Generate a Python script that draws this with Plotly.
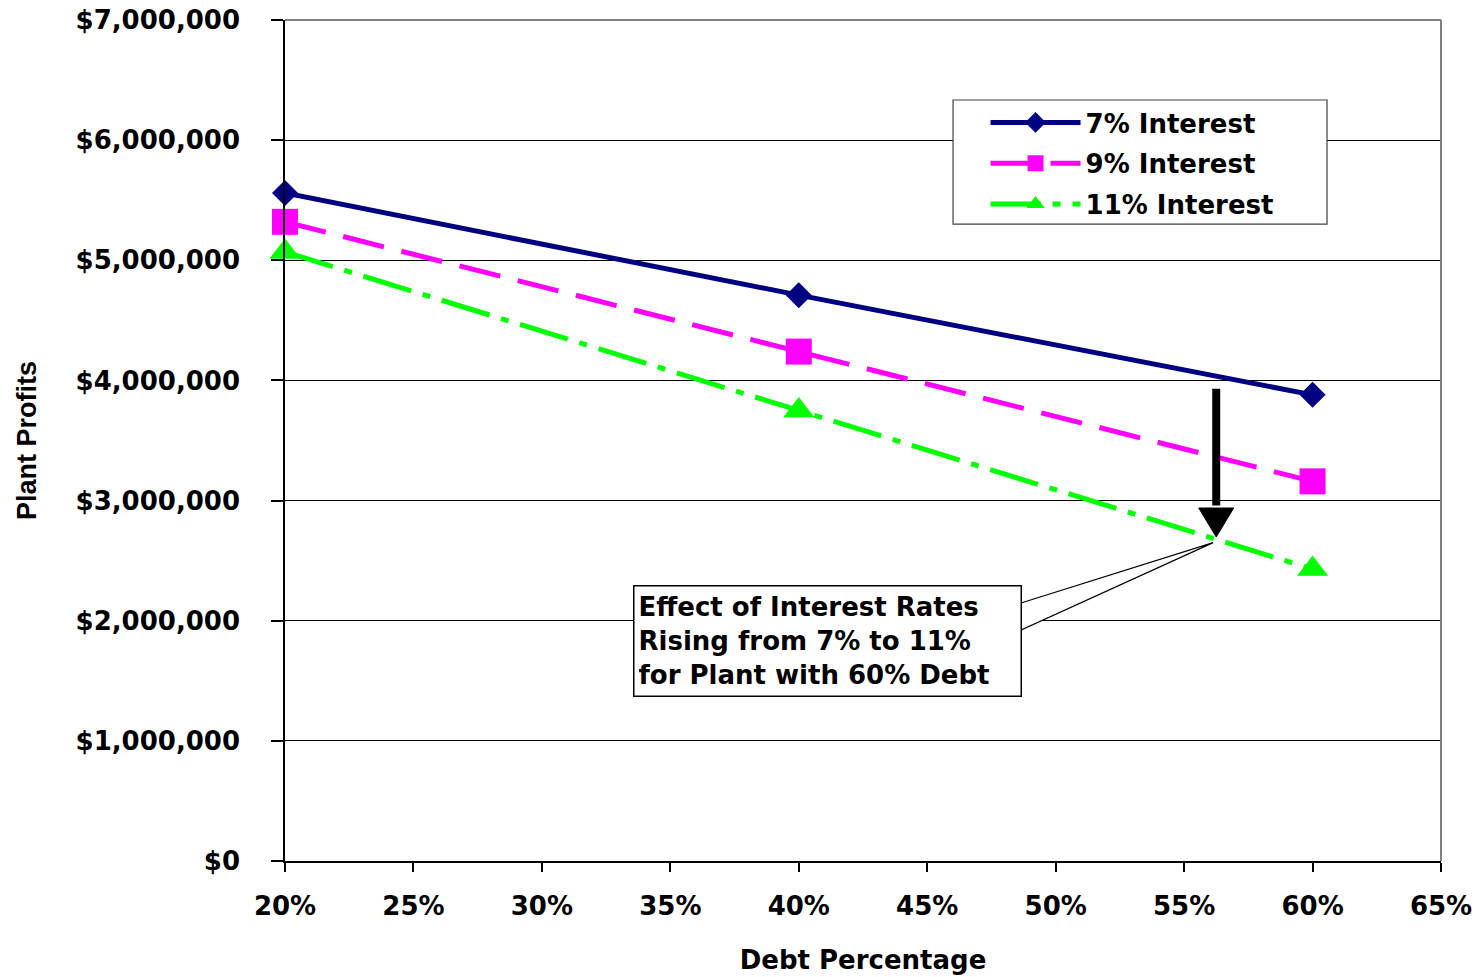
import plotly.graph_objects as go

# ---- data ----
debt_pct = [20, 40, 60]
profit_7 = [5560000, 4710000, 3880000]
profit_9 = [5320000, 4240000, 3160000]
profit_11 = [5070000, 3750000, 2430000]
series_names = ["7% Interest", "9% Interest", "11% Interest"]

x_ticks = [20, 25, 30, 35, 40, 45, 50, 55, 60, 65]
x_tick_labels = ["20%", "25%", "30%", "35%", "40%", "45%", "50%", "55%", "60%", "65%"]
y_ticks = [0, 1000000, 2000000, 3000000, 4000000, 5000000, 6000000, 7000000]

callout_text = "Effect of Interest Rates<br>Rising from 7% to 11%<br>for Plant with 60% Debt"
# big arrow (annotation geometry, data units)
arrow_x = 56.25
arrow_half_w = 0.68
arrow_top = 3930000
arrow_base = 2938000
arrow_tip = 2697000
# callout box + wedge
callout_x = 41.1
callout_y = 1830000
wedge_x0 = 48.65
wedge_tip_x = 56.13
wedge_tip_y = 2650000
wedge_y_top = 2147000
wedge_y_bot = 1923000

BOLD = dict(family="DejaVu Sans", size=26, color="black", weight="bold")

fig = go.Figure()
fig.add_trace(go.Scatter(
    x=debt_pct, y=profit_7, name=series_names[0], mode="lines+markers",
    legendgroup="a",
    line=dict(color="#000080", width=5),
    marker=dict(symbol="diamond", size=20, color="#000080"),
    cliponaxis=False))
fig.add_trace(go.Scatter(
    x=debt_pct, y=profit_9, name=series_names[1], mode="lines+markers",
    legendgroup="b",
    line=dict(color="#FF00FF", width=5, dash="42px,18px"),
    marker=dict(symbol="square", size=26, color="#FF00FF"),
    cliponaxis=False))
fig.add_trace(go.Scatter(
    x=debt_pct, y=profit_11, name=series_names[2], mode="lines+markers",
    legendgroup="c",
    line=dict(color="#00FF00", width=5, dash="50px,12px,8px,12px"),
    marker=dict(symbol="triangle-up", size=27, color="#00FF00"),
    cliponaxis=False))

fig.update_layout(
    width=1482, height=977,
    margin=dict(l=285, r=41, t=20, b=116, autoexpand=False),
    paper_bgcolor="white", plot_bgcolor="white",
    font=BOLD,
    showlegend=True,
    legend=dict(
        x=0.606, y=0.906, xanchor="left", yanchor="top",
        bgcolor="rgba(0,0,0,0)", borderwidth=0,
        font=BOLD, itemwidth=90, tracegroupgap=4,
    ),
    xaxis=dict(
        range=[20, 65], tickvals=x_ticks, ticktext=x_tick_labels,
        showgrid=False, zeroline=False, automargin=False,
        showline=True, linecolor="black", linewidth=1.5,
        ticks="outside", ticklen=9, tickcolor="black", tickwidth=1.5,
        ticklabelstandoff=12, ticklabeloverflow="allow",
        tickfont=BOLD,
        title=dict(text="Debt Percentage", font=BOLD, standoff=31),
    ),
    yaxis=dict(
        range=[0, 7000000], tickvals=y_ticks, tickformat="$,.0f",
        showgrid=True, gridcolor="black", gridwidth=1,
        zeroline=False, automargin=False,
        showline=True, linecolor="black", linewidth=1.5,
        ticks="outside", ticklen=12, tickcolor="black", tickwidth=1.5,
        ticklabelstandoff=26, ticklabeloverflow="allow",
        tickfont=BOLD,
        title=dict(text="Plant Profits",
                   font=dict(family="Liberation Sans", size=27, color="black", weight="bold"),
                   standoff=31),
    ),
    shapes=[
        # plot-area border (top and right)
        dict(type="line", xref="paper", yref="paper", x0=0, x1=1, y0=1, y1=1,
             line=dict(color="#808080", width=2), layer="above"),
        dict(type="line", xref="paper", yref="paper", x0=1, x1=1, y0=0, y1=1,
             line=dict(color="#808080", width=2), layer="above"),
        # legend box
        dict(type="rect", xref="paper", yref="paper",
             x0=0.5779, x1=0.9014, y0=0.7574, y1=0.9049,
             fillcolor="white", line=dict(color="#404040", width=1.2), layer="above"),
        # callout wedge
        dict(type="path", xref="x", yref="y",
             path=f"M {wedge_x0},{wedge_y_top} L {wedge_tip_x},{wedge_tip_y} L {wedge_x0},{wedge_y_bot} Z",
             fillcolor="white", line=dict(color="black", width=1.2), layer="above"),
        # big arrow: shaft and head
        dict(type="line", xref="x", yref="y",
             x0=arrow_x, x1=arrow_x, y0=arrow_top, y1=arrow_base + 20000,
             line=dict(color="black", width=8), layer="above"),
        dict(type="path", xref="x", yref="y",
             path=(f"M {arrow_x - arrow_half_w},{arrow_base} L {arrow_x + arrow_half_w},{arrow_base} "
                   f"L {arrow_x},{arrow_tip} Z"),
             fillcolor="black", line=dict(color="black", width=1), layer="above"),
    ],
    annotations=[
        dict(x=callout_x, y=callout_y, xref="x", yref="y",
             text=callout_text, showarrow=False, align="left",
             xanchor="center", yanchor="middle",
             font=BOLD, bgcolor="white", bordercolor="black",
             borderwidth=1.5, borderpad=4, width=378, height=101),
    ],
)

fig.write_html(
    "out.html",
    config={"displayModeBar": False},
    post_script="document.body.style.margin='0px';document.body.style.overflow='hidden';",
)
